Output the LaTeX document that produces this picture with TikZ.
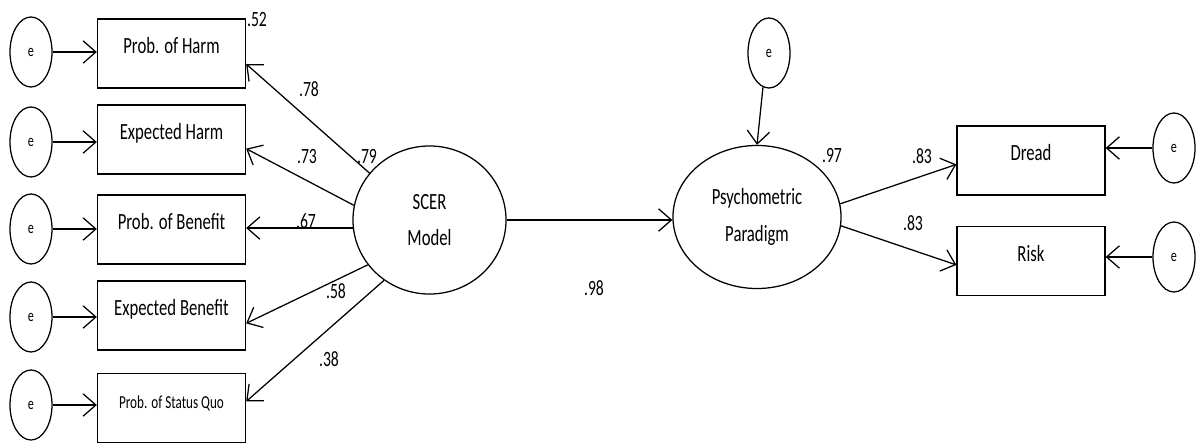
\documentclass[tikz,border=0pt]{standalone}
\usepackage{fontspec}
\setmainfont{Carlito}[FakeStretch=0.72]
\usetikzlibrary{shapes, arrows.meta, positioning}
\tikzset{
    indicator/.style={rectangle, draw, line width=0.9pt, minimum width=3.7cm, minimum height=1.725cm, text height=0.3cm, text depth=0.3cm, font=\fontsize{16.5}{19}\selectfont},
    latent/.style={ellipse, draw, line width=0.9pt, align=center, inner sep=0pt, font=\fontsize{16.5}{26}\selectfont},
    err/.style={ellipse, draw, line width=0.9pt, minimum width=1.05cm, minimum height=1.75cm, inner sep=0pt, font=\fontsize{12}{14}\selectfont},
    coef/.style={inner sep=0pt, font=\fontsize{15.5}{17}\selectfont},
    arrow/.style={line width=0.9pt, ->}
}

\begin{document}
\begin{tikzpicture}[x=0.025cm, y=-0.025cm, >={Straight Barb[length=3.2mm, width=5.6mm]}]
        \useasboundingbox (0,0) rectangle (1196,442); % Canvas

        % Indicators of the SCER model - left column
        \node (Prob_harm) at (171.5, 53.5) [indicator] {Prob. of Harm};
        \node (Exp_harm) at (171.5, 139.5) [indicator] {Expected Harm};
        \node (Prob_ben) at (171.5, 229.5) [indicator] {Prob. of Benefit};
        \node (Exp_ben) at (171.5, 315.5) [indicator] {Expected Benefit};
        \node (Prob_sq) at (171.5, 408) [indicator, font=\fontsize{13}{15}\selectfont] {Prob. of Status Quo};

        % Error terms - far left
        \node (e_1) at (31, 52) [err] {e};
        \node (e_2) at (31, 142) [err] {e};
        \node (e_3) at (31, 229) [err] {e};
        \node (e_4) at (31, 317) [err] {e};
        \node (e_5) at (31, 405) [err] {e};
        \draw[arrow] (e_1.east) -- (e_1.east -| Prob_harm.west);
        \draw[arrow] (e_2.east) -- (e_2.east -| Exp_harm.west);
        \draw[arrow] (e_3.east) -- (e_3.east -| Prob_ben.west);
        \draw[arrow] (e_4.east) -- (e_4.east -| Exp_ben.west);
        \draw[arrow] (e_5.east) -- (e_5.east -| Prob_sq.west);

        % Latent variables
        \node (SCER) at (429.5, 220) [latent, minimum width=3.825cm, minimum height=3.7cm] {SCER\\Model};
        \node (Psych) at (757, 217) [latent, minimum width=4.2cm, minimum height=3.575cm] {Psychometric\\Paradigm};
        \node (e_psych) at (769, 53) [err] {e};

        % Loadings of the SCER model
        \draw[arrow] (SCER.142) -- (Prob_harm.-8);
        \draw[arrow] (SCER.169) -- (Exp_harm.-7);
        \draw[arrow] (SCER.186) -- (SCER.186 -| Prob_ben.east);
        \draw[arrow] (SCER.216) -- (Exp_ben.-6);
        \draw[arrow] (SCER.233) -- (Prob_sq.5);

        % Path between the latent variables
        \draw[arrow] (SCER.east) -- (SCER.east -| Psych.west);
        \draw[arrow] (e_psych.260) -- (Psych.north);

        % Outcome indicators - right side
        \node (Dread) at (1031, 160.5) [indicator] {Dread};
        \node (Risk) at (1031, 261) [indicator] {Risk};
        \node (e_dread) at (1174, 148) [err] {e};
        \node (e_risk) at (1174, 257) [err] {e};
        \draw[arrow] (Psych.9) -- (Dread.183);
        \draw[arrow] (Psych.-6) -- (Risk.183);
        \draw[arrow] (e_dread.west) -- (e_dread.west -| Dread.east);
        \draw[arrow] (e_risk.west) -- (e_risk.west -| Risk.east);

        % Coefficients
        \node (L_52) at (257, 19.5) [coef] {.52};
        \node (L_78) at (309, 89) [coef] {.78};
        \node (L_73) at (307, 157) [coef] {.73};
        \node (L_79) at (367, 157) [coef] {.79};
        \node (L_67) at (306, 221) [coef] {.67};
        \node (L_58) at (336, 291) [coef] {.58};
        \node (L_38) at (329, 359) [coef] {.38};
        \node (L_98) at (594, 288) [coef] {.98};
        \node (L_97) at (832, 156) [coef] {.97};
        \node (L_83a) at (922, 156) [coef] {.83};
        \node (L_83b) at (913, 223) [coef] {.83};

    \end{tikzpicture}
\end{document}
